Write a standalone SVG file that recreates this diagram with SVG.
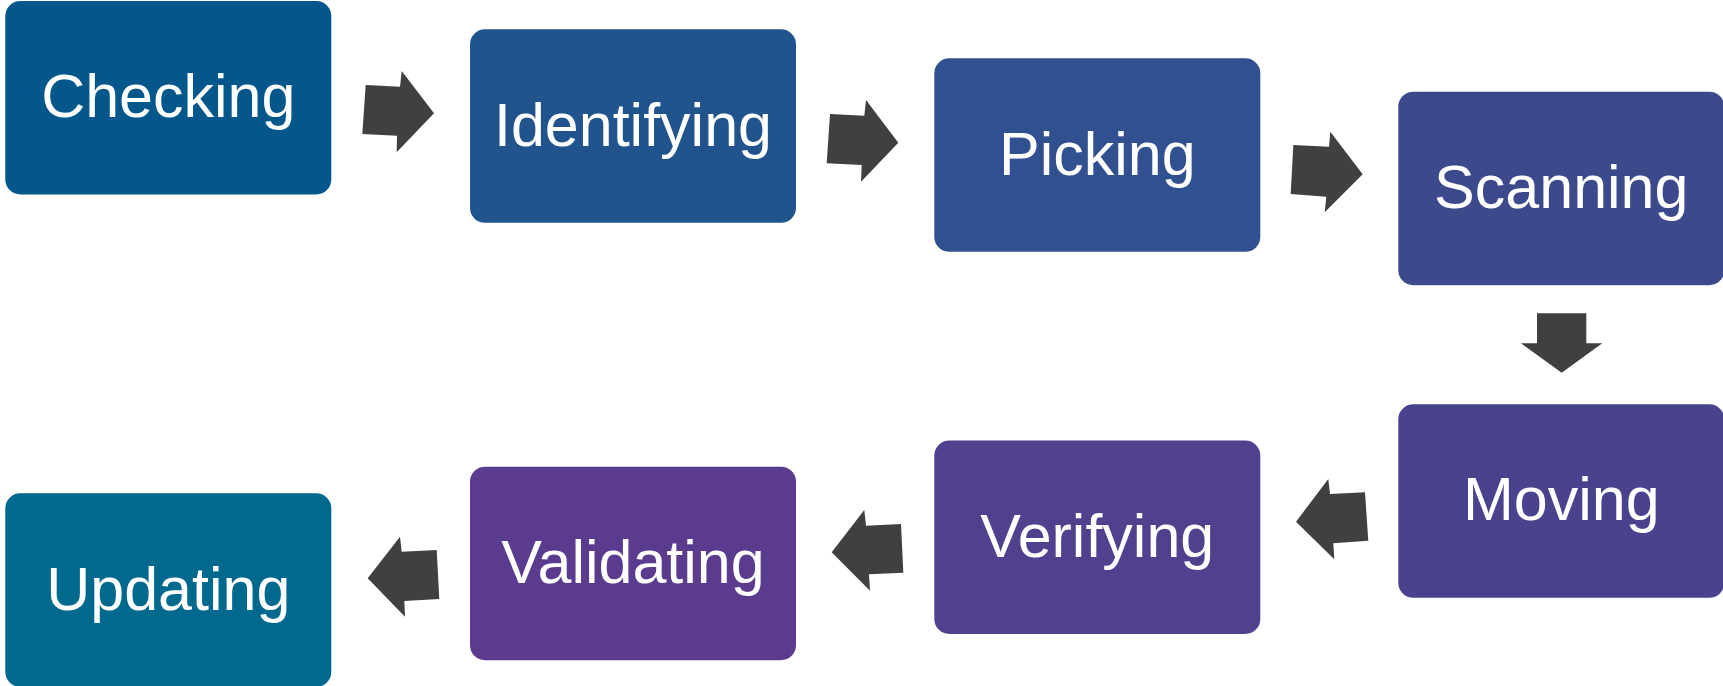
<svg xmlns="http://www.w3.org/2000/svg" width="1723" height="686" viewBox="0 0 1723 686">
<style>
.box{stroke:none}
.lbl{font-family:"Liberation Sans",Arial,sans-serif;font-size:61px;fill:#ffffff;text-anchor:middle}
.arr{fill:#404040}
</style>
<rect width="1723" height="686" fill="#ffffff"/>
<g id="connectors">
<polygon class="arr" points="365.7,85 400,86.7 401.7,71 434,113.3 396.7,152.3 397,135.7 362.3,134"/>
<polygon class="arr" points="830,114 864.3,115.7 866,100 898.3,142.7 861,181.7 861.7,165 826.7,163.3"/>
<polygon class="arr" points="1293.3,145 1329,146.7 1330.3,131.7 1362.7,174.3 1324.7,212.3 1326.3,196.7 1290.7,194"/>
<polygon class="arr" points="1537,313.3 1586.3,313.3 1586.3,343.3 1602.3,343.3 1561.7,372.7 1521,343.3 1537,343.3"/>
<polygon class="arr" points="1365,492.3 1330,494 1328.3,479 1296,521.7 1334.3,559.3 1333.3,543.3 1368.3,540.7"/>
<polygon class="arr" points="901,524 866,525.7 864.3,510 831.7,552.3 870,590.7 869,574.3 903.3,572.7"/>
<polygon class="arr" points="436.7,550 401.7,551.7 400,536.7 367.7,578.3 405,616.7 404.3,601 439.3,599"/>
</g>
<g id="checking"><rect class="box" x="5.3" y="1" width="326" height="193.5" rx="15" fill="#03578B"/><text class="lbl" x="168.3" y="117">Checking</text></g>
<g id="identifying"><rect class="box" x="470" y="29.3" width="326" height="193.5" rx="15" fill="#21548C"/><text class="lbl" x="633" y="145.5">Identifying</text></g>
<g id="picking"><rect class="box" x="934.3" y="58.3" width="326" height="193.5" rx="15" fill="#31508F"/><text class="lbl" x="1097.3" y="175">Picking</text></g>
<g id="scanning"><rect class="box" x="1398.3" y="91.7" width="326" height="193.5" rx="15" fill="#3C4A8C"/><text class="lbl" x="1561.3" y="208">Scanning</text></g>
<g id="moving"><rect class="box" x="1398.3" y="404.3" width="326" height="193.5" rx="15" fill="#48438C"/><text class="lbl" x="1561.3" y="520">Moving</text></g>
<g id="verifying"><rect class="box" x="934.3" y="440.5" width="326" height="193.5" rx="15" fill="#51408E"/><text class="lbl" x="1097.3" y="556.5">Verifying</text></g>
<g id="validating"><rect class="box" x="470" y="466.7" width="326" height="193.5" rx="15" fill="#5A3B8E"/><text class="lbl" x="633" y="583">Validating</text></g>
<g id="updating"><rect class="box" x="5.3" y="493.3" width="326" height="193.5" rx="15" fill="#02698E"/><text class="lbl" x="168.3" y="609.5">Updating</text></g>
</svg>
